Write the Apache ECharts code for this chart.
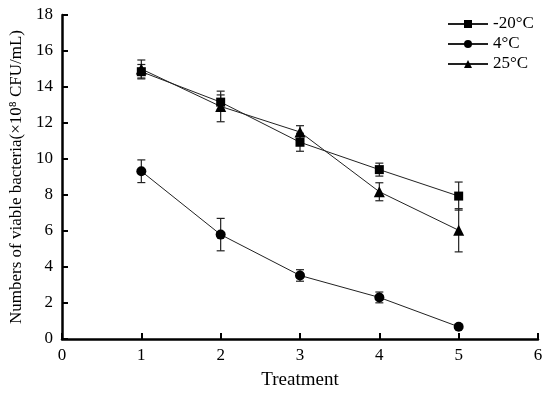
<!DOCTYPE html>
<html><head><meta charset="utf-8">
<script src="https://cdn.jsdelivr.net/npm/echarts@6/dist/echarts.min.js"></script>
<style>html,body{margin:0;padding:0;background:#fff}#c{width:550px;height:395px}</style>
</head><body><div id="c"></div>
<script>
var treatments = [1, 2, 3, 4, 5];
var seriesNames = ['-20°C', '4°C', '25°C'];
var valsM20 = [14.85, 13.16, 10.93, 9.41, 7.94];
var errM20 = [0.4, 0.4, 0.5, 0.36, 0.78];
var vals4 = [9.32, 5.8, 3.53, 2.31, 0.68];
var err4 = [0.63, 0.9, 0.32, 0.3, 0.08];
var vals25 = [15.0, 12.92, 11.5, 8.18, 6.04];
var err25 = [0.5, 0.85, 0.35, 0.5, 1.2];
var xTicks = [0, 1, 2, 3, 4, 5, 6];
var yTicks = [0, 2, 4, 6, 8, 10, 12, 14, 16, 18];

var FONT = '"Liberation Serif", "Times New Roman", serif';
var symbols = ['rect', 'circle', 'triangle'];
var symSizes = [9, 10, 11];
var allVals = [valsM20, vals4, vals25];
var allErr = [errM20, err4, err25];

function pts(v) { return treatments.map(function (t, i) { return [t, v[i]]; }); }
function errData(v, e) { return treatments.map(function (t, i) { return [t, v[i] - e[i], v[i] + e[i]]; }); }

function errRender(params, api) {
  var x = api.value(0);
  var lo = api.coord([x, api.value(1)]);
  var hi = api.coord([x, api.value(2)]);
  var hw = 4;
  var st = { stroke: '#222', lineWidth: 1.2 };
  return {
    type: 'group',
    children: [
      { type: 'line', shape: { x1: lo[0], y1: lo[1], x2: hi[0], y2: hi[1] }, style: st },
      { type: 'line', shape: { x1: lo[0] - hw, y1: lo[1], x2: lo[0] + hw, y2: lo[1] }, style: st },
      { type: 'line', shape: { x1: hi[0] - hw, y1: hi[1], x2: hi[0] + hw, y2: hi[1] }, style: st }
    ]
  };
}

var series = [];
seriesNames.forEach(function (n, k) {
  series.push({
    name: n + '_err', type: 'custom', renderItem: errRender, data: errData(allVals[k], allErr[k]),
    z: 1, silent: true, encode: { x: 0, y: [1, 2] }
  });
});
seriesNames.forEach(function (n, k) {
  series.push({
    name: n, type: 'line', data: pts(allVals[k]), symbol: symbols[k], symbolSize: symSizes[k],
    showAllSymbol: true, animation: false, z: 3,
    lineStyle: { color: '#222', width: 1 },
    itemStyle: { color: '#000', borderWidth: 0 }
  });
});

var chart = echarts.init(document.getElementById('c'), null, { renderer: 'canvas' });
chart.setOption({
  animation: false,
  backgroundColor: '#fff',
  textStyle: { fontFamily: FONT, color: '#000' },
  grid: { left: 62, right: 12, top: 15, bottom: 55, containLabel: false },
  legend: {
    data: seriesNames,
    orient: 'vertical', left: 442, top: 9, itemWidth: 40, itemHeight: 10, itemGap: 0,
    textStyle: { fontFamily: FONT, fontSize: 17, color: '#000', lineHeight: 20, padding: 0 },
    selectedMode: false
  },
  xAxis: {
    type: 'value', min: 0, max: 6, interval: 1,
    name: 'Treatment', nameLocation: 'middle', nameGap: 32,
    nameTextStyle: { fontFamily: FONT, fontSize: 19, color: '#000' },
    axisLine: { onZero: false, lineStyle: { color: '#000', width: 2.5 } },
    axisTick: { inside: true, length: 6, lineStyle: { color: '#000', width: 2 } },
    axisLabel: { fontFamily: FONT, fontSize: 17, color: '#000', margin: 8,
      formatter: function (v) { return xTicks.indexOf(v) >= 0 ? String(v) : ''; } },
    splitLine: { show: false }
  },
  yAxis: {
    type: 'value', min: 0, max: 18, interval: 2,
    name: 'Numbers of viable bacteria(×10⁸ CFU/mL)', nameLocation: 'middle', nameGap: 35,
    nameTextStyle: { fontFamily: FONT, fontSize: 17, color: '#000' },
    axisLine: { onZero: false, lineStyle: { color: '#000', width: 2.5 } },
    axisTick: { inside: true, length: 6, lineStyle: { color: '#000', width: 2 } },
    axisLabel: { fontFamily: FONT, fontSize: 17, color: '#000', margin: 9,
      formatter: function (v) { return yTicks.indexOf(v) >= 0 ? String(v) : ''; } },
    splitLine: { show: false }
  },
  series: series
});
</script></body></html>
